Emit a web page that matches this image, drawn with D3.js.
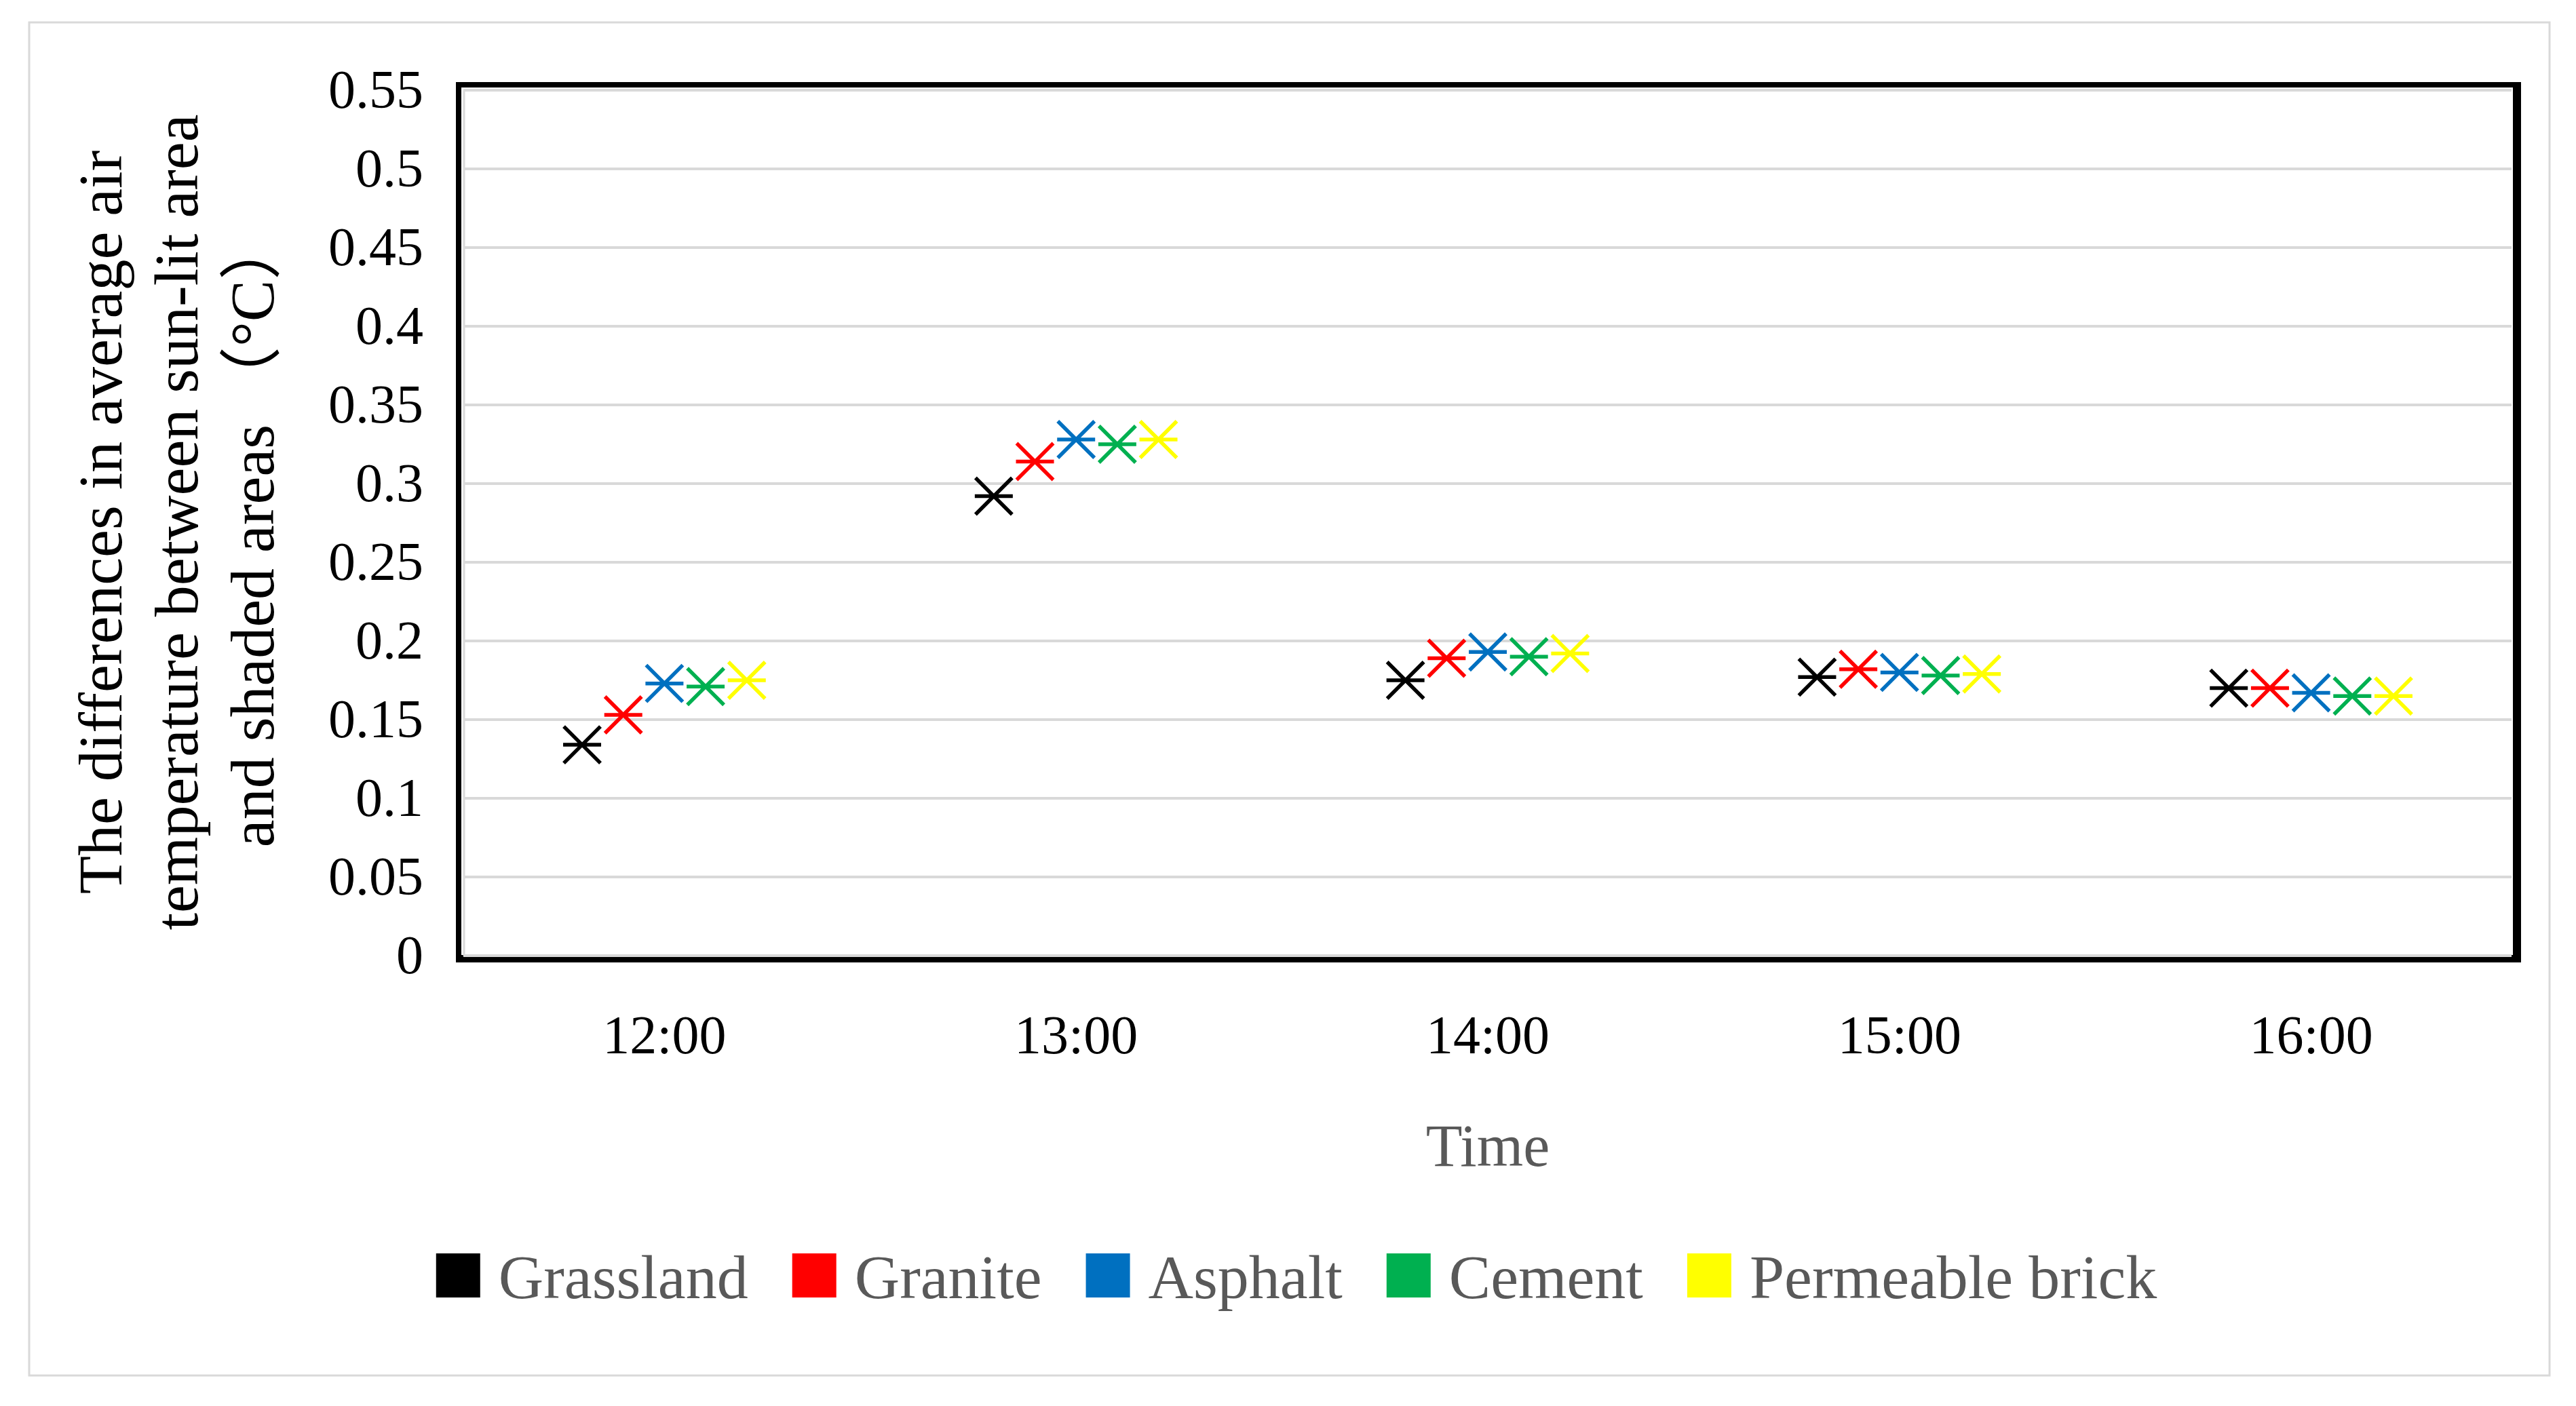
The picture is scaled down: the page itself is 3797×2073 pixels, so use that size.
<!DOCTYPE html>
<meta charset="utf-8">
<html>
<head>
<script src="https://d3js.org/d3.v7.min.js"></script>
<style>
  body { margin: 0; background: #fff; }
  text { font-family: "Liberation Serif", "Noto Sans CJK SC", serif; }
</style>
</head>
<body>
<div id="chart"></div>
<script>
  // categories and values
  const times = ["12:00", "13:00", "14:00", "15:00", "16:00"];
  const seriesNames = ["Grassland", "Granite", "Asphalt", "Cement", "Permeable brick"];
  const grassland = [0.134, 0.292, 0.175, 0.177, 0.170];
  const granite   = [0.153, 0.314, 0.189, 0.182, 0.170];
  const asphalt   = [0.173, 0.328, 0.193, 0.180, 0.167];
  const cement    = [0.171, 0.325, 0.190, 0.178, 0.165];
  const permeable = [0.175, 0.328, 0.192, 0.179, 0.165];
  const yTicks = [0, 0.05, 0.1, 0.15, 0.2, 0.25, 0.3, 0.35, 0.4, 0.45, 0.5, 0.55];
  const yTickLabels = ["0", "0.05", "0.1", "0.15", "0.2", "0.25", "0.3", "0.35", "0.4", "0.45", "0.5", "0.55"];
  const yTitle = ["The differences in average air", "temperature between sun-lit area", "and shaded areas （°C）"];
  const xTitle = "Time";

  const colors = ["#000000", "#FF0000", "#0070C0", "#00B050", "#FFFF00"];
  const allSeries = [grassland, granite, asphalt, cement, permeable];

  const W = 3797, H = 2073;
  const svg = d3.select("#chart").append("svg")
    .attr("width", W).attr("height", H);

  // outer chart border
  svg.append("rect")
    .attr("x", 43).attr("y", 33).attr("width", 3715).attr("height", 1995)
    .attr("fill", "#fff").attr("stroke", "#D9D9D9").attr("stroke-width", 3);

  // plot frame (black, heavier on bottom/right)
  svg.append("rect")
    .attr("x", 672).attr("y", 121).attr("width", 3716 - 672).attr("height", 1419 - 121)
    .attr("fill", "#000");
  svg.append("rect")
    .attr("x", 680).attr("y", 129).attr("width", 3704 - 680).attr("height", 1408 - 129)
    .attr("fill", "#fff");

  const x = d3.scaleBand()
    .domain(times)
    .range([676, 3710])
    .padding(0);

  const y = d3.scaleLinear()
    .domain([0, 0.55])
    .range([1409, 133]);

  // gridlines
  svg.append("g")
    .selectAll("line")
    .data(yTicks)
    .join("line")
      .attr("x1", 683).attr("x2", 3702)
      .attr("y1", d => y(d)).attr("y2", d => y(d))
      .attr("stroke", "#D9D9D9").attr("stroke-width", 4);

  // left gray edge of plot area
  svg.append("line")
    .attr("x1", 684).attr("x2", 684).attr("y1", y(0.55)).attr("y2", y(0))
    .attr("stroke", "#D9D9D9").attr("stroke-width", 3);

  // Y axis
  const yAxis = svg.append("g")
    .attr("transform", "translate(676,0)")
    .call(d3.axisLeft(y).tickValues(yTicks).tickSize(0).tickPadding(52)
      .tickFormat((d, i) => yTickLabels[i]));
  yAxis.select(".domain").remove();
  yAxis.selectAll("text")
    .style("font-family", "Liberation Serif")
    .attr("font-size", 80).attr("fill", "#000");

  // X axis
  const xAxis = svg.append("g")
    .attr("transform", "translate(0,1419)")
    .call(d3.axisBottom(x).tickSize(0).tickPadding(77));
  xAxis.select(".domain").remove();
  xAxis.selectAll("text")
    .style("font-family", "Liberation Serif")
    .attr("font-size", 80).attr("fill", "#000");

  // axis titles
  const yt = svg.append("g");
  yt.selectAll("text")
    .data(yTitle)
    .join("text")
      .attr("transform", (d, i) => `translate(${179 + i * 112},${i == 2 ? 785 : 770}) rotate(-90)`)
      .attr("text-anchor", "middle")
      .attr("font-size", 92)
      .attr("fill", "#000")
      .text(d => d);

  svg.append("text")
    .attr("x", (676 + 3710) / 2).attr("y", 1719)
    .attr("text-anchor", "middle")
    .attr("font-size", 88)
    .attr("fill", "#595959")
    .text(xTitle);

  // markers: asterisk, series spread around each category
  const star = "M-27,-27L27,27M-27,27L27,-27M-28,0L28,0";
  allSeries.forEach((vals, s) => {
    svg.append("g")
      .selectAll("path")
      .data(vals)
      .join("path")
        .attr("transform", (d, i) =>
          `translate(${x(times[i]) + x.bandwidth() / 2 + (s - 2) * 0.1 * x.bandwidth()},${y(d)})`)
        .attr("d", star)
        .attr("fill", "none")
        .attr("stroke", colors[s])
        .attr("stroke-width", 5.5);
  });

  // legend
  const legend = svg.append("g");
  const items = legend.selectAll("g")
    .data(seriesNames)
    .join("g");
  items.append("rect")
    .attr("width", 65).attr("height", 65)
    .attr("y", 1848)
    .attr("fill", (d, i) => colors[i]);
  items.append("text")
    .attr("x", 92).attr("y", 1914)
    .attr("font-size", 92)
    .attr("fill", "#595959")
    .text(d => d);

  let cx = 0;
  const offsets = [];
  items.each(function () {
    offsets.push(cx);
    const w = d3.select(this).select("text").node().getComputedTextLength();
    cx += 92 + w + 65;
  });
  const total = cx - 65;
  const start = 1911 - total / 2;
  items.attr("transform", (d, i) => `translate(${start + offsets[i]},0)`);
</script>
</body>
</html>
